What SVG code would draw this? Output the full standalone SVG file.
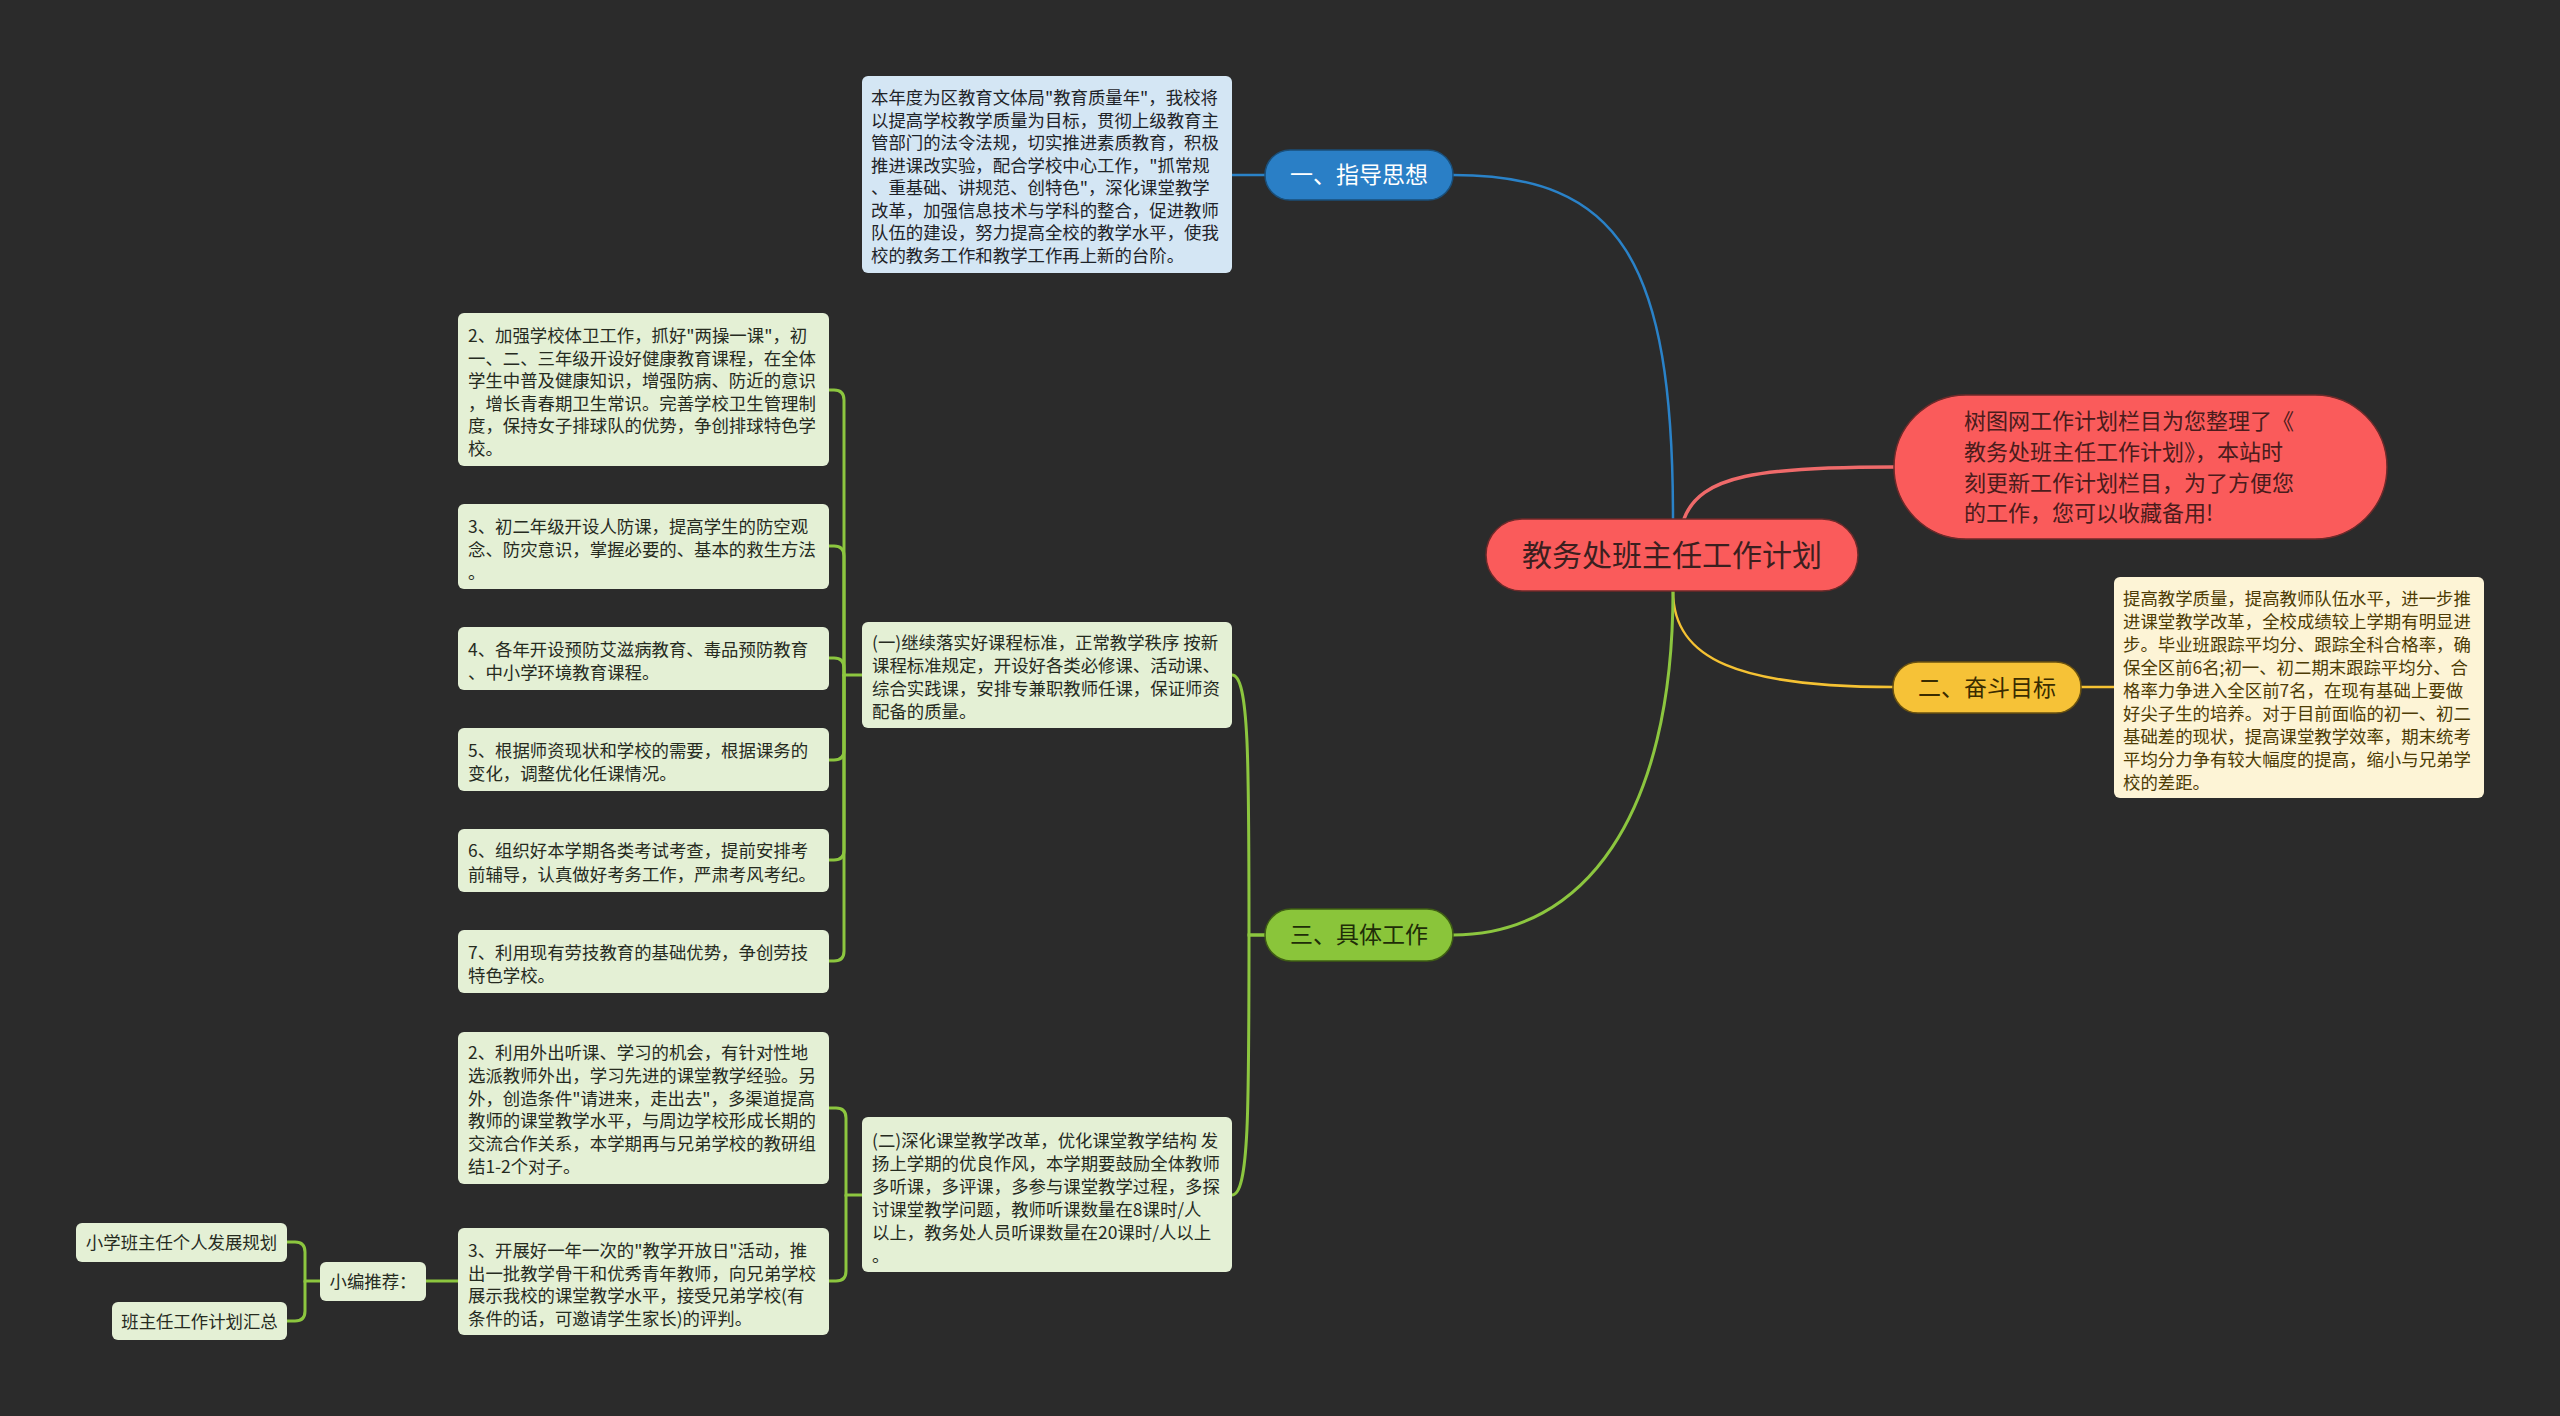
<svg xmlns="http://www.w3.org/2000/svg" width="2560" height="1416" viewBox="0 0 2560 1416">
<style>
text{font-family:"Noto Sans CJK SC","Noto Sans",sans-serif}
.box{rx:6;ry:6}
.gbox{fill:#e4f0d5}
.bbox{fill:#d4e6f4}
.ybox{fill:#fdf4d6}
.t{font-size:17.4px;fill:#262b1f}
.tb{font-size:17.4px;fill:#1e2328}
.ty{font-size:17.4px;fill:#4d3c05}
.c{fill:none;stroke-linecap:round}
.cg{stroke:#8cc63f;stroke-width:3}
.cb{stroke:#2a82c8;stroke-width:2.5}
.cy{stroke:#f5c233;stroke-width:2.5}
.cr{stroke:#ef6a6a;stroke-width:3.5}
</style>
<rect width="2560" height="1416" fill="#2b2b2b"/>
<g id="connectors">
<path class="c cb" d="M1673,519 C1673,260 1620,175 1453,175"/>
<path class="c cb" d="M1265,175 H1232"/>
<path class="c cr" d="M1684,519 C1700,475 1760,467 1894,467"/>
<path class="c cy" d="M1673,591 C1673,660 1740,687 1894,687"/>
<path class="c cy" d="M2080,687 H2114"/>
<path class="c cg" d="M1673,591 C1673,816 1584,935 1453,935"/>
<path class="c cg" d="M1265,935 H1249 C1249,760 1249,675 1232,675"/>
<path class="c cg" d="M1265,935 H1249 C1249,1110 1249,1195 1232,1195"/>
<path class="c cg" d="M862,675 H844 V400 Q844,390 834,390 H829"/>
<path class="c cg" d="M844,675 V556 Q844,546 834,546 H829"/>
<path class="c cg" d="M844,675 V668 Q844,658 834,658 H829"/>
<path class="c cg" d="M844,675 V750 Q844,760 834,760 H829"/>
<path class="c cg" d="M844,675 V850 Q844,860 834,860 H829"/>
<path class="c cg" d="M844,675 V951 Q844,961 834,961 H829"/>
<path class="c cg" d="M862,1195 H846 V1118 Q846,1108 836,1108 H829"/>
<path class="c cg" d="M846,1195 V1271 Q846,1281 836,1281 H829"/>
<path class="c cg" d="M458,1281 H426"/>
<path class="c cg" d="M320,1281 H305 V1252 Q305,1242 295,1242 H287"/>
<path class="c cg" d="M305,1281 V1311 Q305,1321 295,1321 H287"/>
</g>
<g id="root">
<rect x="1486" y="519" width="372" height="72" rx="36" fill="#fa5b5b" stroke="#6e2a2a" stroke-width="1.5"/>
<text x="1672" y="566" font-size="30" fill="#3b1f1f" text-anchor="middle">教务处班主任工作计划</text>
</g>
<g id="note">
<rect x="1894" y="395" width="493" height="144" rx="72" fill="#fa5b5b" stroke="#6e2a2a" stroke-width="1.5"/>
<text font-size="22" fill="#4a1c1c">
<tspan x="1964" y="429">树图网工作计划栏目为您整理了《</tspan>
<tspan x="1964" y="460">教务处班主任工作计划》，本站时</tspan>
<tspan x="1964" y="491">刻更新工作计划栏目，为了方便您</tspan>
<tspan x="1964" y="521">的工作，您可以收藏备用!</tspan>
</text>
</g>
<g id="n1">
<rect x="1265" y="150" width="188" height="50" rx="25" fill="#2a7fc6" stroke="#1a4f7a" stroke-width="1.5"/>
<text x="1359" y="183" font-size="23" fill="#ffffff" text-anchor="middle">一、指导思想</text>
</g>
<g id="n1text">
<rect class="box bbox" x="862" y="76" width="370" height="197"/>
<text class="tb">
<tspan x="871" y="104">本年度为区教育文体局"教育质量年"，我校将</tspan>
<tspan x="871" y="126.5">以提高学校教学质量为目标，贯彻上级教育主</tspan>
<tspan x="871" y="149">管部门的法令法规，切实推进素质教育，积极</tspan>
<tspan x="871" y="171.5">推进课改实验，配合学校中心工作，"抓常规</tspan>
<tspan x="871" y="194">、重基础、讲规范、创特色"，深化课堂教学</tspan>
<tspan x="871" y="216.5">改革，加强信息技术与学科的整合，促进教师</tspan>
<tspan x="871" y="239">队伍的建设，努力提高全校的教学水平，使我</tspan>
<tspan x="871" y="261.5">校的教务工作和教学工作再上新的台阶。</tspan>
</text>
</g>
<g id="n2">
<rect x="1893" y="662" width="188" height="51" rx="25" fill="#f6c237" stroke="#6a5210" stroke-width="1.5"/>
<text x="1987" y="696" font-size="23" fill="#3a2c00" text-anchor="middle">二、奋斗目标</text>
</g>
<g id="n2text">
<rect class="box ybox" x="2114" y="577" width="370" height="221"/>
<text class="ty">
<tspan x="2123" y="605">提高教学质量，提高教师队伍水平，进一步推</tspan>
<tspan x="2123" y="628">进课堂教学改革，全校成绩较上学期有明显进</tspan>
<tspan x="2123" y="651">步。毕业班跟踪平均分、跟踪全科合格率，确</tspan>
<tspan x="2123" y="674">保全区前6名;初一、初二期末跟踪平均分、合</tspan>
<tspan x="2123" y="697">格率力争进入全区前7名，在现有基础上要做</tspan>
<tspan x="2123" y="720">好尖子生的培养。对于目前面临的初一、初二</tspan>
<tspan x="2123" y="743">基础差的现状，提高课堂教学效率，期末统考</tspan>
<tspan x="2123" y="766">平均分力争有较大幅度的提高，缩小与兄弟学</tspan>
<tspan x="2123" y="789">校的差距。</tspan>
</text>
</g>
<g id="n3">
<rect x="1265" y="909" width="188" height="52" rx="26" fill="#8ac53a" stroke="#3f5e14" stroke-width="1.5"/>
<text x="1359" y="943" font-size="23" fill="#1f2d08" text-anchor="middle">三、具体工作</text>
</g>
<g id="s1">
<rect class="box gbox" x="862" y="622" width="370" height="106"/>
<text class="t">
<tspan x="872" y="649">(一)继续落实好课程标准，正常教学秩序 按新</tspan>
<tspan x="872" y="672">课程标准规定，开设好各类必修课、活动课、</tspan>
<tspan x="872" y="695">综合实践课，安排专兼职教师任课，保证师资</tspan>
<tspan x="872" y="718">配备的质量。</tspan>
</text>
</g>
<g id="s2">
<rect class="box gbox" x="862" y="1117" width="370" height="155"/>
<text class="t">
<tspan x="872" y="1147">(二)深化课堂教学改革，优化课堂教学结构 发</tspan>
<tspan x="872" y="1170">扬上学期的优良作风，本学期要鼓励全体教师</tspan>
<tspan x="872" y="1193">多听课，多评课，多参与课堂教学过程，多探</tspan>
<tspan x="872" y="1216">讨课堂教学问题，教师听课数量在8课时/人</tspan>
<tspan x="872" y="1239">以上，教务处人员听课数量在20课时/人以上</tspan>
<tspan x="872" y="1262">。</tspan>
</text>
</g>
<g id="a2">
<rect class="box gbox" x="458" y="313" width="371" height="153"/>
<text class="t">
<tspan x="468" y="342">2、加强学校体卫工作，抓好"两操一课"，初</tspan>
<tspan x="468" y="364.5">一、二、三年级开设好健康教育课程，在全体</tspan>
<tspan x="468" y="387">学生中普及健康知识，增强防病、防近的意识</tspan>
<tspan x="468" y="409.5">，增长青春期卫生常识。完善学校卫生管理制</tspan>
<tspan x="468" y="432">度，保持女子排球队的优势，争创排球特色学</tspan>
<tspan x="468" y="454.5">校。</tspan>
</text>
</g>
<g id="a3">
<rect class="box gbox" x="458" y="504" width="371" height="85"/>
<text class="t">
<tspan x="468" y="533">3、初二年级开设人防课，提高学生的防空观</tspan>
<tspan x="468" y="556">念、防灾意识，掌握必要的、基本的救生方法</tspan>
<tspan x="468" y="579">。</tspan>
</text>
</g>
<g id="a4">
<rect class="box gbox" x="458" y="627" width="371" height="63"/>
<text class="t">
<tspan x="468" y="656">4、各年开设预防艾滋病教育、毒品预防教育</tspan>
<tspan x="468" y="679">、中小学环境教育课程。</tspan>
</text>
</g>
<g id="a5">
<rect class="box gbox" x="458" y="728" width="371" height="63"/>
<text class="t">
<tspan x="468" y="757">5、根据师资现状和学校的需要，根据课务的</tspan>
<tspan x="468" y="780">变化，调整优化任课情况。</tspan>
</text>
</g>
<g id="a6">
<rect class="box gbox" x="458" y="829" width="371" height="63"/>
<text class="t">
<tspan x="468" y="857">6、组织好本学期各类考试考查，提前安排考</tspan>
<tspan x="468" y="881">前辅导，认真做好考务工作，严肃考风考纪。</tspan>
</text>
</g>
<g id="a7">
<rect class="box gbox" x="458" y="930" width="371" height="63"/>
<text class="t">
<tspan x="468" y="959">7、利用现有劳技教育的基础优势，争创劳技</tspan>
<tspan x="468" y="982">特色学校。</tspan>
</text>
</g>
<g id="b2">
<rect class="box gbox" x="458" y="1032" width="371" height="152"/>
<text class="t">
<tspan x="468" y="1059">2、利用外出听课、学习的机会，有针对性地</tspan>
<tspan x="468" y="1082">选派教师外出，学习先进的课堂教学经验。另</tspan>
<tspan x="468" y="1104.5">外，创造条件"请进来，走出去"，多渠道提高</tspan>
<tspan x="468" y="1127">教师的课堂教学水平，与周边学校形成长期的</tspan>
<tspan x="468" y="1150">交流合作关系，本学期再与兄弟学校的教研组</tspan>
<tspan x="468" y="1172.5">结1-2个对子。</tspan>
</text>
</g>
<g id="b3">
<rect class="box gbox" x="458" y="1228" width="371" height="107"/>
<text class="t">
<tspan x="468" y="1257">3、开展好一年一次的"教学开放日"活动，推</tspan>
<tspan x="468" y="1280">出一批教学骨干和优秀青年教师，向兄弟学校</tspan>
<tspan x="468" y="1302">展示我校的课堂教学水平，接受兄弟学校(有</tspan>
<tspan x="468" y="1325">条件的话，可邀请学生家长)的评判。</tspan>
</text>
</g>
<g id="rec">
<rect class="box gbox" x="320" y="1262" width="106" height="39"/>
<text class="t" x="373" y="1288" text-anchor="middle">小编推荐：</text>
</g>
<g id="rec1">
<rect class="box gbox" x="76" y="1223" width="211" height="39"/>
<text class="t" x="181.5" y="1249" text-anchor="middle">小学班主任个人发展规划</text>
</g>
<g id="rec2">
<rect class="box gbox" x="112" y="1302" width="175" height="38"/>
<text class="t" x="199.5" y="1328" text-anchor="middle">班主任工作计划汇总</text>
</g>
</svg>
